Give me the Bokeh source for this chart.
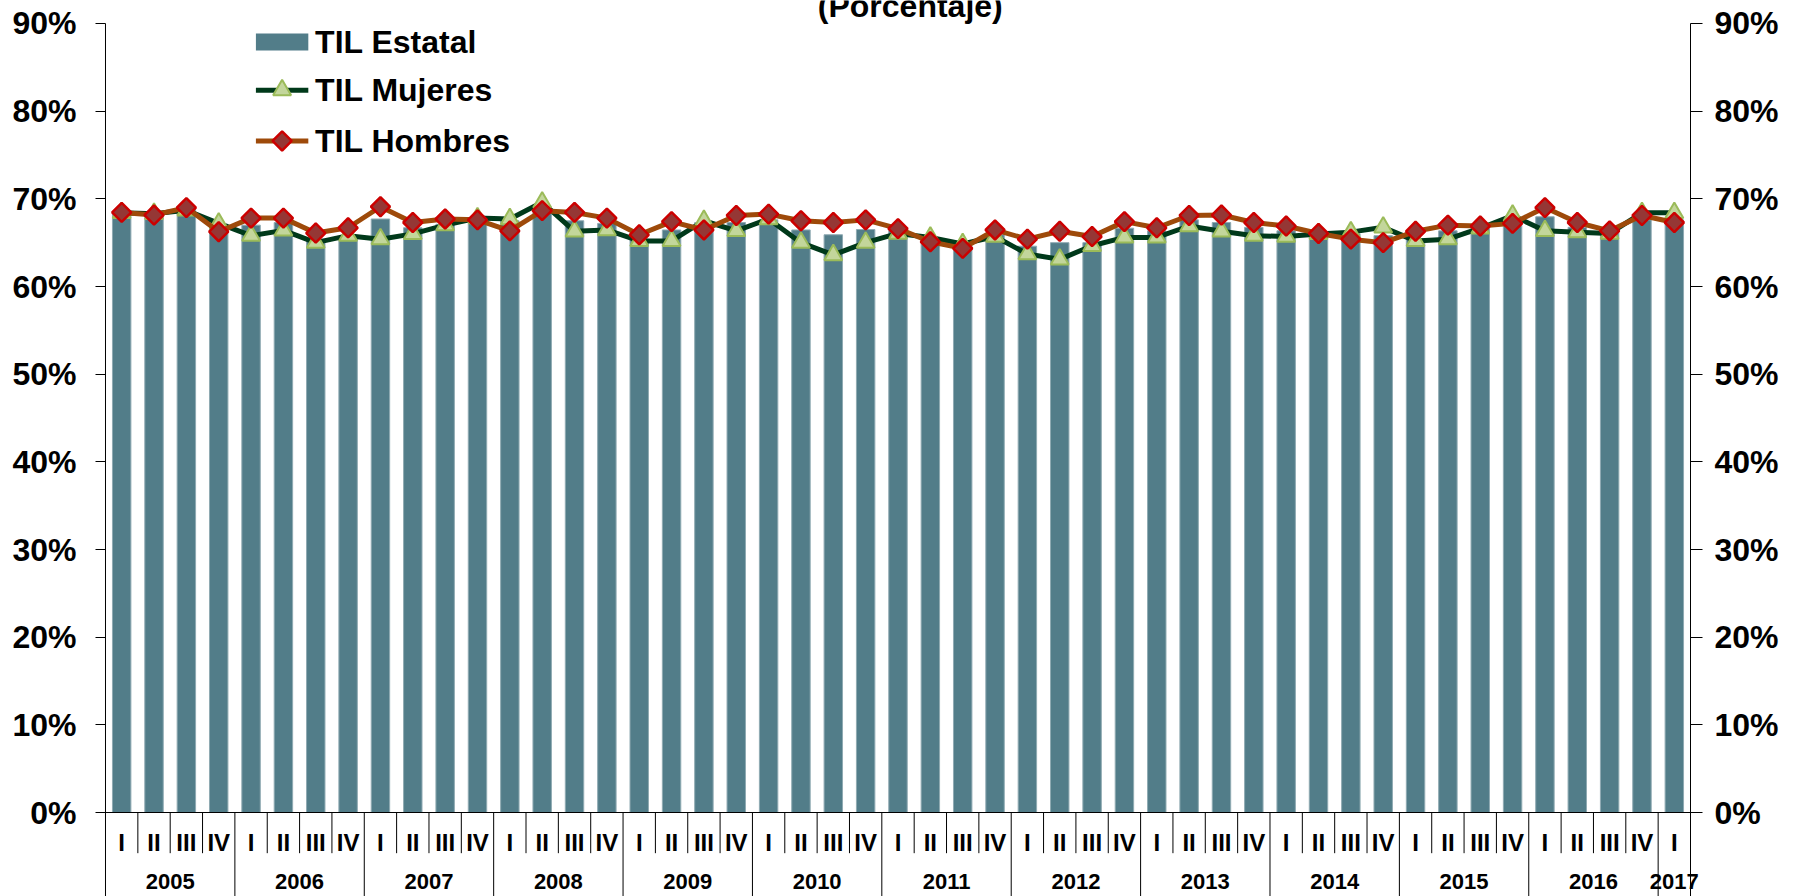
import numpy as np
from bokeh.plotting import figure
from bokeh.models import (Range1d, LinearAxis, FixedTicker, PrintfTickFormatter,
                          ColumnDataSource)
from bokeh.core.properties import value
from bokeh.embed import file_html
from bokeh.resources import INLINE

# ---------------- data ----------------
years = ["2005", "2006", "2007", "2008", "2009", "2010", "2011", "2012",
         "2013", "2014", "2015", "2016", "2017"]
quarters = ["I", "II", "III", "IV"] * 12 + ["I"]

til_estatal = [68.45, 68.3, 68.8, 67.1, 67.0, 67.3, 65.4, 65.7,
               67.7, 66.7, 67.1, 67.7, 67.5, 68.65, 67.5, 67.2,
               65.4, 66.45, 67.3, 67.3, 67.6, 66.45, 65.9, 66.5,
               66.4, 65.4, 64.65, 65.9, 64.6, 65.0, 65.0, 66.65,
               66.35, 67.6, 67.3, 66.75, 66.35, 66.0, 66.0, 65.8,
               65.4, 66.35, 66.75, 67.3, 67.95, 66.75, 66.35, 67.6,
               67.6]
til_mujeres = [68.4, 68.3, 68.7, 67.2, 65.8, 66.4, 65.0, 65.8,
               65.4, 66.0, 67.0, 67.8, 67.7, 69.6, 66.3, 66.45,
               65.2, 65.2, 67.5, 66.35, 67.7, 65.0, 63.6, 65.0,
               66.05, 65.6, 64.85, 65.7, 63.7, 63.1, 64.65, 65.6,
               65.6, 66.9, 66.3, 65.8, 65.7, 66.0, 66.2, 66.75,
               65.2, 65.4, 66.65, 68.1, 66.35, 66.2, 66.05, 68.4,
               68.4]
til_hombres = [68.45, 68.15, 69.0, 66.25, 67.8, 67.8, 66.1, 66.7,
               69.1, 67.3, 67.7, 67.6, 66.35, 68.65, 68.45, 67.8,
               65.9, 67.4, 66.45, 68.1, 68.26, 67.5, 67.3, 67.6,
               66.6, 65.1, 64.35, 66.45, 65.4, 66.3, 65.7, 67.4,
               66.7, 68.1, 68.15, 67.3, 66.9, 66.05, 65.4, 65.0,
               66.3, 67.0, 66.9, 67.2, 69.0, 67.3, 66.35, 68.1,
               67.3]
y_ticks = [0, 10, 20, 30, 40, 50, 60, 70, 80, 90]

# ---------------- styles ----------------
FONT = "Liberation Sans"
BAR = "#527D89"
M_LINE = "#00391A"
M_FILL = "#C3D69B"
M_EDGE = "#9BBB59"
H_LINE = "#9E4A0A"
H_FILL = "#953735"
H_EDGE = "#CC0000"

n = len(quarters)
xc = [i + 0.5 for i in range(n)]
src = ColumnDataSource(dict(x=xc, est=til_estatal, muj=til_mujeres,
                            hom=til_hombres, q=quarters))

W, H = 1803, 896
PX = 32.347          # pixels per category
PY = 8.767           # pixels per percentage point
Y_TOP = 90 + 23 / PY
Y_BOTTOM = -84 / PY
X_LEFT = -4 / PX
X_RIGHT = n + 12 / PX

p = figure(width=W, height=H, output_backend="svg", toolbar_location=None,
           x_range=Range1d(X_LEFT, X_RIGHT), y_range=Range1d(Y_BOTTOM, Y_TOP),
           x_axis_location=None, y_axis_location="left",
           min_border_left=101, min_border_right=101,
           min_border_top=0, min_border_bottom=0)
p.grid.visible = False
p.outline_line_color = None
p.background_fill_color = "white"
p.border_fill_color = "white"

# y axes (ticks + labels); axis lines drawn below as segments
ticker = FixedTicker(ticks=y_ticks, minor_ticks=[])
fmt = PrintfTickFormatter(format="%d%%")
right_axis = LinearAxis()
p.add_layout(right_axis, "right")
for ax, t_in, t_out, standoff in ((p.yaxis[0], 4, 6, 19), (right_axis, 12, 0, 12)):
    ax.ticker = ticker
    ax.formatter = fmt
    ax.axis_line_color = None
    ax.major_tick_line_color = "black"
    ax.major_tick_line_width = 1
    ax.major_tick_out = t_out
    ax.major_tick_in = t_in
    ax.minor_tick_line_color = None
    ax.major_label_text_font = FONT
    ax.major_label_text_font_style = "bold"
    ax.major_label_text_font_size = "32px"
    ax.major_label_text_color = "black"
    ax.major_label_standoff = standoff

# bars
p.vbar(x="x", top="est", bottom=0, width=0.57, source=src,
       fill_color=BAR, line_color="#8FAAB2", line_width=1)

# lines + markers
p.line("x", "muj", source=src, line_color=M_LINE, line_width=5, line_join="round")
p.scatter("x", "muj", source=src, marker="triangle", size=18,
          fill_color=M_FILL, line_color=M_EDGE, line_width=2)
p.line("x", "hom", source=src, line_color=H_LINE, line_width=5, line_join="round")
p.scatter("x", "hom", source=src, marker="square", angle=np.pi / 4, size=13.5,
          fill_color=H_FILL, line_color=H_EDGE, line_width=2.5)

# axis lines, baseline, category separators
p.segment(x0=[0, n], y0=[Y_BOTTOM, Y_BOTTOM], x1=[0, n], y1=[90, 90],
          line_color="black", line_width=1)
p.segment(x0=[0], y0=[0], x1=[n], y1=[0], line_color="black", line_width=1)
q_sep = [i for i in range(1, n) if i % 4 != 0]
y_sep = [i for i in range(4, n, 4)]
p.segment(x0=q_sep, y0=0, x1=q_sep, y1=-4.64, line_color="black", line_width=1)
p.segment(x0=y_sep, y0=0, x1=y_sep, y1=Y_BOTTOM, line_color="black", line_width=1)

# category labels
p.text(x="x", y=-3.4, text="q", source=src, text_align="center",
       text_baseline="middle", text_font=value(FONT), text_font_size="24px",
       text_font_style="bold", text_color="black")
year_x = [(4 * k + min(4 * k + 4, n)) / 2 for k in range(len(years))]
p.text(x=year_x, y=[-7.85] * len(years), text=years, text_align="center",
       text_baseline="middle", text_font=value(FONT), text_font_size="22px",
       text_font_style="bold", text_color="black")

# legend (manual)
LX0, LX1, LTX = 4.65, 6.27, 6.48
LY = [87.9, 82.4, 76.6]
p.rect(x=(LX0 + LX1) / 2, y=LY[0], width=LX1 - LX0, height=1.94,
       fill_color=BAR, line_color=None)
p.segment(x0=[LX0], y0=[LY[1]], x1=[LX1], y1=[LY[1]], line_color=M_LINE, line_width=5)
p.scatter(x=[(LX0 + LX1) / 2], y=[LY[1]], marker="triangle", size=18,
          fill_color=M_FILL, line_color=M_EDGE, line_width=2)
p.segment(x0=[LX0], y0=[LY[2]], x1=[LX1], y1=[LY[2]], line_color=H_LINE, line_width=5)
p.scatter(x=[(LX0 + LX1) / 2], y=[LY[2]], marker="square", angle=np.pi / 4, size=13.5,
          fill_color=H_FILL, line_color=H_EDGE, line_width=2.5)
p.text(x=[LTX] * 3, y=LY, text=["TIL Estatal", "TIL Mujeres", "TIL Hombres"],
       text_baseline="middle", text_align="left", text_font=value(FONT),
       text_font_size="32px", text_font_style="bold", text_color="black")

# title (partially cut at the top in the reference)
p.text(x=[24.88], y=[91.95], text=["(Porcentaje)"], text_align="center",
       text_baseline="alphabetic", text_font=value(FONT),
       text_font_size="32px", text_font_style="bold", text_color="black")

open("out.html", "w").write(file_html(p, INLINE))
